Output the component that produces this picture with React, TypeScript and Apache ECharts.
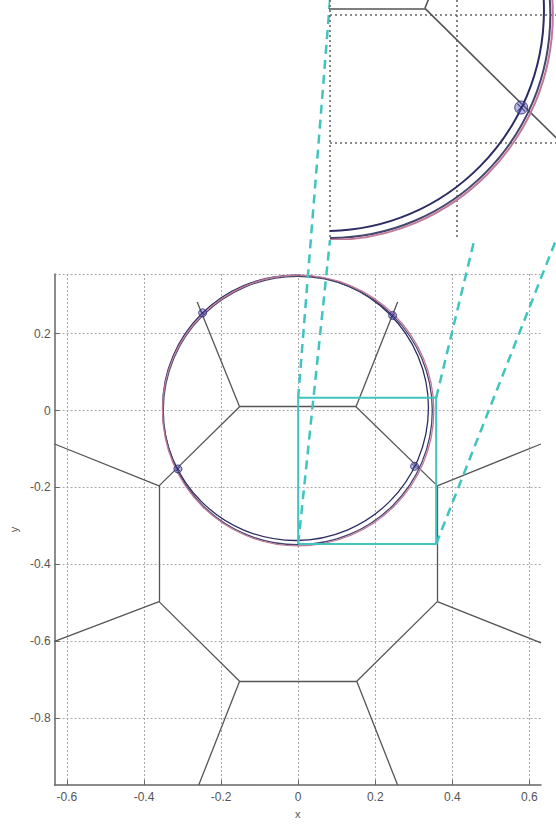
import React, { useEffect, useRef } from "react";
import * as echarts from "echarts";

// ---- data ----
// Voronoi-like edges: [x1, y1, x2, y2]
const voronoiEdges: number[][] = [
  [-0.152, 0.010, 0.150, 0.010],
  [-0.152, 0.010, -0.262, 0.282],
  [0.150, 0.010, 0.258, 0.282],
  [-0.152, 0.010, -0.361, -0.196],
  [0.150, 0.010, 0.361, -0.196],
  [-0.361, -0.196, -0.361, -0.497],
  [0.361, -0.196, 0.361, -0.497],
  [-0.361, -0.497, -0.152, -0.704],
  [0.361, -0.497, 0.152, -0.704],
  [-0.152, -0.704, 0.152, -0.704],
  [-0.361, -0.196, -0.632, -0.087],
  [0.361, -0.196, 0.630, -0.087],
  [-0.361, -0.497, -0.632, -0.600],
  [0.361, -0.497, 0.630, -0.604],
  [-0.152, -0.704, -0.258, -0.974],
  [0.152, -0.704, 0.258, -0.974],
];

// three nearly coincident circles
const circleCx = [-0.007, -0.001, 0.0];
const circleCy = [0.007, 0.0, 0.0];
const circleR = [0.345, 0.349, 0.352];

// intersection markers
const markerX = [-0.248, 0.245, 0.302, -0.312];
const markerY = [0.254, 0.247, -0.145, -0.152];

// zoom box in the main plot
const zoomBoxX = [0.0, 0.358];
const zoomBoxY = [-0.347, 0.033];

// main axes extents
const mainX = [-0.632, 0.63];
const mainY = [-0.974, 0.355];
// inset axes extents
const insetX = [0.0, 0.357];
const insetY = [-0.352, 0.023];

// connector targets on the inset (inset data coords), for box corners TL, BL, TR, BR
const connectorInsetX = [0.0, 0.0, 0.228, 0.357];
const connectorInsetY = [0.023, -0.352, -0.352, -0.352];

export default function App() {
  const ref = useRef<HTMLDivElement>(null);

  useEffect(() => {
    const chart = echarts.init(ref.current!, null, { renderer: "svg" });
    const font = "'Liberation Sans', Arial, sans-serif";
    const circleColors = ["#2c2c62", "#45456e", "#c27a98"];
    const teal = "#3fc4bf";

    const circleData = circleCx.map((cx, i) => [cx, circleCy[i], circleR[i], i]);
    const markerData = markerX.map((x, i) => [x, markerY[i]]);
    const edgeData = voronoiEdges.map((e) => ({ coords: [[e[0], e[1]], [e[2], e[3]]] }));

    const circleSeries = (gi: number, width: number, z: number) => ({
      type: "custom",
      coordinateSystem: "cartesian2d",
      xAxisIndex: gi,
      yAxisIndex: gi,
      z,
      silent: true,
      clip: false,
      encode: { x: 0, y: 1 },
      data: circleData,
      renderItem: (params: any, api: any) => {
        const c = api.coord([api.value(0), api.value(1)]);
        const s = api.size([api.value(2), api.value(2)]);
        const cs = params.coordSys;
        return {
          type: "group",
          clipPath: { type: "rect", shape: { x: cs.x, y: cs.y, width: cs.width, height: cs.height } },
          children: [
            {
              type: "ellipse",
              shape: { cx: c[0], cy: c[1], rx: Math.abs(s[0]), ry: Math.abs(s[1]) },
              style: { fill: "none", stroke: circleColors[api.value(3)], lineWidth: width },
            },
          ],
        };
      },
    });

    const edgeSeries = (gi: number, width: number, z: number) => ({
      type: "lines",
      coordinateSystem: "cartesian2d",
      xAxisIndex: gi,
      yAxisIndex: gi,
      z,
      silent: true,
      clip: true,
      data: edgeData,
      lineStyle: { color: "#555", width, opacity: 1 },
      symbol: "none",
    });

    const markerSeries = (gi: number, size: number, z: number) => [
      {
        type: "scatter",
        xAxisIndex: gi,
        yAxisIndex: gi,
        z,
        silent: true,
        clip: true,
        symbol: "circle",
        symbolSize: size,
        data: markerData,
        itemStyle: { color: "rgba(90,90,190,0.55)", borderColor: "#262670", borderWidth: 1 },
      },
      {
        type: "scatter",
        xAxisIndex: gi,
        yAxisIndex: gi,
        z: z + 1,
        silent: true,
        clip: true,
        symbol: "path://M0,0L10,10M10,0L0,10",
        symbolSize: size * 0.6,
        data: markerData,
        itemStyle: { color: "none", borderColor: "#1e1e60", borderWidth: 1 },
      },
    ];

    const mainSplit = { type: [2, 2], color: "#a8a8a8", width: 1 };

    chart.setOption({
      animation: false,
      backgroundColor: "#fff",
      grid: [
        { left: 52, top: 274, width: 489, height: 516, containLabel: false },
        {
          left: 330, top: 0, width: 227, height: 240,
          show: true, backgroundColor: "#fff", borderWidth: 0, z: 4,
        },
      ],
      xAxis: [
        {
          type: "value", gridIndex: 0, min: mainX[0], max: mainX[1],
          minInterval: 0.2, maxInterval: 0.2,
          name: "x", nameLocation: "middle", nameGap: 22,
          nameTextStyle: { color: "#555", fontSize: 11, fontFamily: font },
          axisLine: { onZero: false, lineStyle: { color: "#666", width: 1.5 } },
          axisTick: { inside: true, length: 5, lineStyle: { color: "#666" } },
          axisLabel: { color: "#555", fontSize: 12, fontFamily: font, margin: 6, showMinLabel: false, showMaxLabel: false },
          splitLine: { show: true, showMinLine: false, showMaxLine: false, lineStyle: mainSplit },
        },
        {
          type: "value", gridIndex: 1, min: insetX[0], max: insetX[1],
          minInterval: 0.2, maxInterval: 0.2, z: 5,
          axisLine: { show: false }, axisTick: { show: false }, axisLabel: { show: false },
          splitLine: { show: true, showMinLine: true, showMaxLine: false, lineStyle: { type: [2, 3], color: "#666", width: 1.6 } },
        },
      ],
      yAxis: [
        {
          type: "value", gridIndex: 0, min: mainY[0], max: mainY[1],
          minInterval: 0.2, maxInterval: 0.2,
          name: "y", nameLocation: "middle", nameGap: 32, nameRotate: 90,
          nameTextStyle: { color: "#555", fontSize: 11, fontFamily: font },
          axisLine: { onZero: false, lineStyle: { color: "#666", width: 1.5 } },
          axisTick: { inside: true, length: 5, lineStyle: { color: "#666" } },
          axisLabel: { color: "#555", fontSize: 12, fontFamily: font, margin: 4, showMinLabel: false, showMaxLabel: false },
          splitLine: { show: true, showMinLine: false, showMaxLine: true, lineStyle: mainSplit },
        },
        {
          type: "value", gridIndex: 1, min: insetY[0], max: insetY[1],
          minInterval: 0.2, maxInterval: 0.2, z: 5,
          axisLine: { show: false }, axisTick: { show: false }, axisLabel: { show: false },
          splitLine: { show: true, showMinLine: false, showMaxLine: false, lineStyle: { type: [2, 3], color: "#666", width: 1.6 } },
        },
      ],
      series: [
        edgeSeries(0, 1.3, 2),
        circleSeries(0, 1.3, 2),
        ...markerSeries(0, 8, 2),
        {
          type: "line",
          xAxisIndex: 0,
          yAxisIndex: 0,
          z: 3,
          silent: true,
          showSymbol: false,
          symbol: "none",
          lineStyle: { color: teal, width: 2 },
          data: [
            [zoomBoxX[0], zoomBoxY[0]],
            [zoomBoxX[1], zoomBoxY[0]],
            [zoomBoxX[1], zoomBoxY[1]],
            [zoomBoxX[0], zoomBoxY[1]],
            [zoomBoxX[0], zoomBoxY[0]],
          ],
        },
        edgeSeries(1, 1.6, 6),
        circleSeries(1, 2, 6),
        ...markerSeries(1, 13, 7),
      ],
    });

    const boxCorners = [
      [zoomBoxX[0], zoomBoxY[1]],
      [zoomBoxX[0], zoomBoxY[0]],
      [zoomBoxX[1], zoomBoxY[1]],
      [zoomBoxX[1], zoomBoxY[0]],
    ];
    const graphics = boxCorners.map((c, i) => {
      const p1 = chart.convertToPixel({ gridIndex: 0 } as any, c) as number[];
      const p2 = chart.convertToPixel({ gridIndex: 1 } as any, [connectorInsetX[i], connectorInsetY[i]]) as number[];
      return {
        type: "line",
        z: 3,
        silent: true,
        shape: { x1: p1[0], y1: p1[1], x2: p2[0], y2: p2[1] },
        style: { stroke: teal, lineWidth: 2.5, lineDash: [9, 6] },
      };
    });
    chart.setOption({ graphic: graphics });

    return () => chart.dispose();
  }, []);

  return (
    <div
      ref={ref}
      style={{ position: "fixed", left: 0, top: 0, width: 556, height: 824, background: "#fff" }}
    />
  );
}
